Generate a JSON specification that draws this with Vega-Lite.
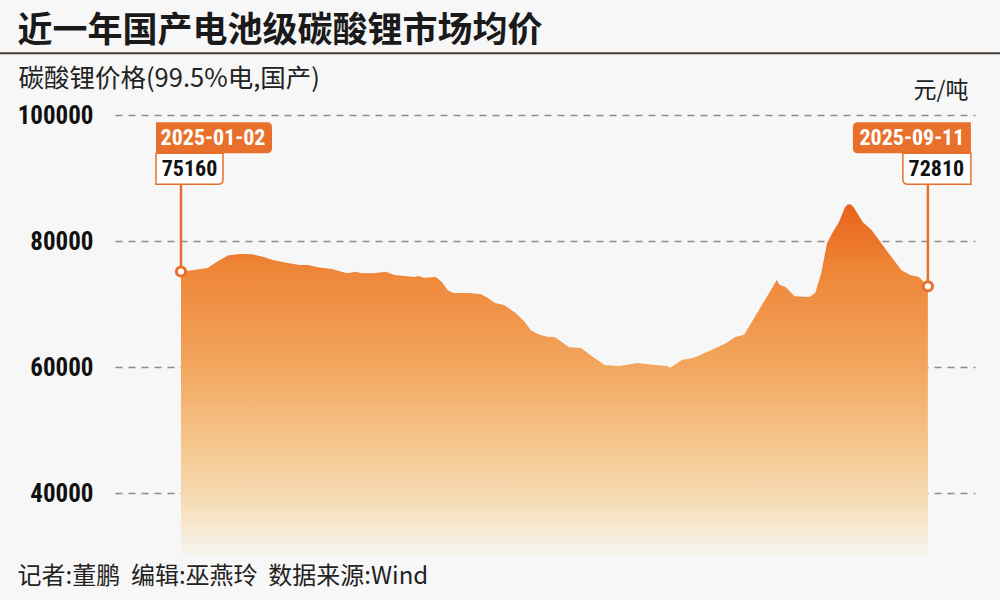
{
  "$schema": "https://vega.github.io/schema/vega-lite/v6.json",
  "width": 860,
  "height": 441,
  "autosize": {"type": "none"},
  "padding": {"left": 115, "top": 115, "right": 25, "bottom": 44},
  "background": "#f7f7f7",
  "config": {"view": {"stroke": null}},
  "datasets": {
    "price": [
      {"date": "2025-01-02", "value": 75160},
      {"date": "2025-01-05", "value": 75300},
      {"date": "2025-01-11", "value": 75700},
      {"date": "2025-01-14", "value": 76650},
      {"date": "2025-01-18", "value": 77750},
      {"date": "2025-01-22", "value": 77950},
      {"date": "2025-01-26", "value": 77900},
      {"date": "2025-01-30", "value": 77450},
      {"date": "2025-02-02", "value": 77000},
      {"date": "2025-02-07", "value": 76500},
      {"date": "2025-02-11", "value": 76200},
      {"date": "2025-02-14", "value": 76200},
      {"date": "2025-02-17", "value": 75850},
      {"date": "2025-02-22", "value": 75550},
      {"date": "2025-02-27", "value": 74900},
      {"date": "2025-03-02", "value": 75100},
      {"date": "2025-03-04", "value": 74900},
      {"date": "2025-03-08", "value": 74900},
      {"date": "2025-03-12", "value": 75100},
      {"date": "2025-03-15", "value": 74600},
      {"date": "2025-03-22", "value": 74300},
      {"date": "2025-03-23", "value": 74450},
      {"date": "2025-03-25", "value": 74150},
      {"date": "2025-03-29", "value": 74300},
      {"date": "2025-03-31", "value": 73500},
      {"date": "2025-04-02", "value": 72200},
      {"date": "2025-04-04", "value": 71750},
      {"date": "2025-04-09", "value": 71750},
      {"date": "2025-04-13", "value": 71600},
      {"date": "2025-04-15", "value": 71100},
      {"date": "2025-04-18", "value": 70150},
      {"date": "2025-04-21", "value": 69850},
      {"date": "2025-04-25", "value": 68550},
      {"date": "2025-04-28", "value": 67150},
      {"date": "2025-04-30", "value": 65850},
      {"date": "2025-05-03", "value": 65100},
      {"date": "2025-05-06", "value": 64750},
      {"date": "2025-05-08", "value": 64750},
      {"date": "2025-05-09", "value": 64450},
      {"date": "2025-05-13", "value": 63150},
      {"date": "2025-05-17", "value": 63000},
      {"date": "2025-05-21", "value": 61600},
      {"date": "2025-05-25", "value": 60300},
      {"date": "2025-05-30", "value": 60150},
      {"date": "2025-06-05", "value": 60650},
      {"date": "2025-06-11", "value": 60300},
      {"date": "2025-06-15", "value": 60150},
      {"date": "2025-06-16", "value": 59900},
      {"date": "2025-06-20", "value": 61100},
      {"date": "2025-06-24", "value": 61450},
      {"date": "2025-06-30", "value": 62700},
      {"date": "2025-07-05", "value": 63800},
      {"date": "2025-07-08", "value": 64750},
      {"date": "2025-07-11", "value": 65100},
      {"date": "2025-07-16", "value": 69050},
      {"date": "2025-07-18", "value": 70650},
      {"date": "2025-07-20", "value": 72200},
      {"date": "2025-07-22", "value": 73800},
      {"date": "2025-07-23", "value": 73000},
      {"date": "2025-07-25", "value": 72700},
      {"date": "2025-07-28", "value": 71250},
      {"date": "2025-08-02", "value": 71100},
      {"date": "2025-08-04", "value": 71750},
      {"date": "2025-08-06", "value": 74900},
      {"date": "2025-08-08", "value": 79700},
      {"date": "2025-08-10", "value": 81450},
      {"date": "2025-08-12", "value": 83000},
      {"date": "2025-08-14", "value": 85300},
      {"date": "2025-08-15", "value": 85850},
      {"date": "2025-08-16", "value": 85800},
      {"date": "2025-08-17", "value": 85300},
      {"date": "2025-08-20", "value": 83000},
      {"date": "2025-08-23", "value": 81750},
      {"date": "2025-08-26", "value": 79850},
      {"date": "2025-08-28", "value": 78550},
      {"date": "2025-08-31", "value": 76650},
      {"date": "2025-09-02", "value": 75400},
      {"date": "2025-09-05", "value": 74600},
      {"date": "2025-09-08", "value": 74300},
      {"date": "2025-09-11", "value": 72810}
    ],
    "ann": [
      {"date": "2025-01-02", "value": 75160, "side": "left"},
      {"date": "2025-09-11", "value": 72810, "side": "right"}
    ]
  },
  "resolve": {"axis": {"x": "independent", "y": "independent"}},
  "layer": [
    {
      "data": {"name": "price"},
      "mark": {
        "type": "area",
        "color": {
          "gradient": "linear", "x1": 0, "y1": 0, "x2": 0, "y2": 1,
          "stops": [
            {"offset": 0, "color": "#e8621b"},
            {"offset": 0.19, "color": "#ee8638"},
            {"offset": 0.46, "color": "#f2a65e"},
            {"offset": 0.7, "color": "#f5c890"},
            {"offset": 0.85, "color": "#f6ddb8"},
            {"offset": 1, "color": "#f7f5f0"}
          ]
        }
      },
      "encoding": {
        "x": {
          "field": "date", "type": "temporal",
          "scale": {"domain": [
            {"year": 2024, "month": 12, "date": 10, "hours": 17, "minutes": 30, "utc": true},
            {"year": 2025, "month": 9, "date": 26, "hours": 21, "minutes": 30, "utc": true}
          ]},
          "axis": {
            "orient": "bottom", "domain": false, "ticks": false, "labels": false, "grid": false,
            "title": "记者:董鹏\u00a0\u00a0编辑:巫燕玲\u00a0\u00a0数据来源:Wind",
            "titleX": -98, "titleY": 20, "titleAlign": "left", "titleBaseline": "middle", "titleAngle": 0,
            "titleFont": "Noto Sans CJK SC", "titleFontSize": 24, "titleFontWeight": "normal", "titleColor": "#222222"
          }
        },
        "y": {
          "field": "value", "type": "quantitative",
          "scale": {"domain": [30000, 100000], "zero": false, "nice": false},
          "axis": {
            "orient": "left", "values": [40000, 60000, 80000, 100000], "format": "d",
            "domain": false, "ticks": false, "tickSize": 0, "labelPadding": 22,
            "labelFont": "Roboto Condensed, DejaVu Sans Condensed, Roboto", "labelFontWeight": "bold", "labelFontSize": 25, "labelColor": "#111111",
            "labelBaseline": "middle",
            "grid": true, "gridDash": [7, 6], "gridColor": "#8c8c8c", "gridWidth": 1.5,
            "title": "碳酸锂价格(99.5%电,国产)",
            "titleX": -97, "titleY": -37, "titleAlign": "left", "titleBaseline": "middle", "titleAngle": 0,
            "titleFont": "Noto Sans CJK SC", "titleFontSize": 25.5, "titleFontWeight": "normal", "titleColor": "#222222"
          }
        },
        "y2": {"datum": 30000}
      }
    },
    {
      "data": {"name": "ann"},
      "mark": {"type": "rule", "color": "#e8702a", "strokeWidth": 2.5},
      "encoding": {
        "x": {
          "field": "date", "type": "temporal",
          "axis": {
            "orient": "top", "domain": false, "ticks": false, "labels": false, "grid": false,
            "title": "近一年国产电池级碳酸锂市场均价",
            "titleX": -98, "titleY": -85, "titleAlign": "left", "titleBaseline": "middle", "titleAngle": 0,
            "titleFont": "Noto Sans CJK SC", "titleFontSize": 35, "titleFontWeight": "bold", "titleColor": "#1a1a1a"
          }
        },
        "y": {
          "field": "value", "type": "quantitative",
          "axis": {
            "orient": "right", "domain": false, "ticks": false, "labels": false, "grid": false,
            "title": "元/吨",
            "titleX": -7, "titleY": -25, "titleAlign": "right", "titleBaseline": "middle", "titleAngle": 0,
            "titleFont": "Noto Sans CJK SC", "titleFontSize": 23, "titleFontWeight": "normal", "titleColor": "#222222"
          }
        },
        "y2": {"datum": 89000}
      }
    },
    {
      "data": {"name": "ann"},
      "mark": {"type": "rule", "color": "#4a3e36", "strokeWidth": 2},
      "transform": [{"filter": "datum.side == 'left'"}],
      "encoding": {
        "x": {"datum": {"year": 2024, "month": 11, "date": 1, "utc": true}, "type": "temporal", "axis": null},
        "x2": {"datum": {"year": 2025, "month": 10, "date": 8, "utc": true}},
        "y": {"datum": 109800, "type": "quantitative", "axis": null}
      }
    },
    {
      "data": {"name": "ann"},
      "transform": [{"filter": "datum.side == 'left'"}],
      "mark": {"type": "point", "shape": "M-25,-31H42V-5Q42,0 37,0H-25Z", "size": 4, "filled": true, "fill": "#ffffff", "stroke": "#e8702a", "strokeWidth": 1.5, "opacity": 1},
      "encoding": {
        "x": {"field": "date", "type": "temporal", "axis": null},
        "y": {"datum": 89000, "type": "quantitative", "axis": null}
      }
    },
    {
      "data": {"name": "ann"},
      "transform": [{"filter": "datum.side == 'right'"}],
      "mark": {"type": "point", "shape": "M-25,-31H43V0H-20Q-25,0 -25,-5Z", "size": 4, "filled": true, "fill": "#ffffff", "stroke": "#e8702a", "strokeWidth": 1.5, "opacity": 1},
      "encoding": {
        "x": {"field": "date", "type": "temporal", "axis": null},
        "y": {"datum": 89000, "type": "quantitative", "axis": null}
      }
    },
    {
      "data": {"name": "ann"},
      "transform": [{"filter": "datum.side == 'left'"}],
      "mark": {"type": "point", "shape": "M-25,-62H86Q91,-62 91,-57V-36Q91,-31 86,-31H-25Z", "size": 4, "filled": true, "fill": "#e8702a", "strokeWidth": 0, "opacity": 1},
      "encoding": {
        "x": {"field": "date", "type": "temporal", "axis": null},
        "y": {"datum": 89000, "type": "quantitative", "axis": null}
      }
    },
    {
      "data": {"name": "ann"},
      "transform": [{"filter": "datum.side == 'right'"}],
      "mark": {"type": "point", "shape": "M-75,-57Q-75,-62 -70,-62H43V-31H-70Q-75,-31 -75,-36Z", "size": 4, "filled": true, "fill": "#e8702a", "strokeWidth": 0, "opacity": 1},
      "encoding": {
        "x": {"field": "date", "type": "temporal", "axis": null},
        "y": {"datum": 89000, "type": "quantitative", "axis": null}
      }
    },
    {
      "data": {"name": "ann"},
      "transform": [{"filter": "datum.side == 'left'"}],
      "mark": {"type": "text", "dx": 32, "dy": -46.5, "font": "Roboto Condensed, DejaVu Sans Condensed, Roboto", "fontWeight": "bold", "fontSize": 22, "color": "#ffffff", "baseline": "middle", "align": "center"},
      "encoding": {
        "x": {"field": "date", "type": "temporal", "axis": null},
        "y": {"datum": 89000, "type": "quantitative", "axis": null},
        "text": {"field": "date", "type": "temporal", "timeUnit": "utcyearmonthdate", "format": "%Y-%m-%d"}
      }
    },
    {
      "data": {"name": "ann"},
      "transform": [{"filter": "datum.side == 'right'"}],
      "mark": {"type": "text", "dx": -16, "dy": -46.5, "font": "Roboto Condensed, DejaVu Sans Condensed, Roboto", "fontWeight": "bold", "fontSize": 22, "color": "#ffffff", "baseline": "middle", "align": "center"},
      "encoding": {
        "x": {"field": "date", "type": "temporal", "axis": null},
        "y": {"datum": 89000, "type": "quantitative", "axis": null},
        "text": {"field": "date", "type": "temporal", "timeUnit": "utcyearmonthdate", "format": "%Y-%m-%d"}
      }
    },
    {
      "data": {"name": "ann"},
      "transform": [{"filter": "datum.side == 'left'"}],
      "mark": {"type": "text", "dx": 8.5, "dy": -15.5, "font": "Roboto Condensed, DejaVu Sans Condensed, Roboto", "fontWeight": "bold", "fontSize": 22, "color": "#111111", "baseline": "middle", "align": "center"},
      "encoding": {
        "x": {"field": "date", "type": "temporal", "axis": null},
        "y": {"datum": 89000, "type": "quantitative", "axis": null},
        "text": {"field": "value", "type": "quantitative", "format": "d"}
      }
    },
    {
      "data": {"name": "ann"},
      "transform": [{"filter": "datum.side == 'right'"}],
      "mark": {"type": "text", "dx": 8.5, "dy": -15.5, "font": "Roboto Condensed, DejaVu Sans Condensed, Roboto", "fontWeight": "bold", "fontSize": 22, "color": "#111111", "baseline": "middle", "align": "center"},
      "encoding": {
        "x": {"field": "date", "type": "temporal", "axis": null},
        "y": {"datum": 89000, "type": "quantitative", "axis": null},
        "text": {"field": "value", "type": "quantitative", "format": "d"}
      }
    },
    {
      "data": {"name": "ann"},
      "mark": {"type": "point", "shape": "circle", "size": 85, "filled": true, "fill": "#ffffff", "stroke": "#e8702a", "strokeWidth": 3, "opacity": 1},
      "encoding": {
        "x": {"field": "date", "type": "temporal", "axis": null},
        "y": {"field": "value", "type": "quantitative", "axis": null}
      }
    }
  ]
}
